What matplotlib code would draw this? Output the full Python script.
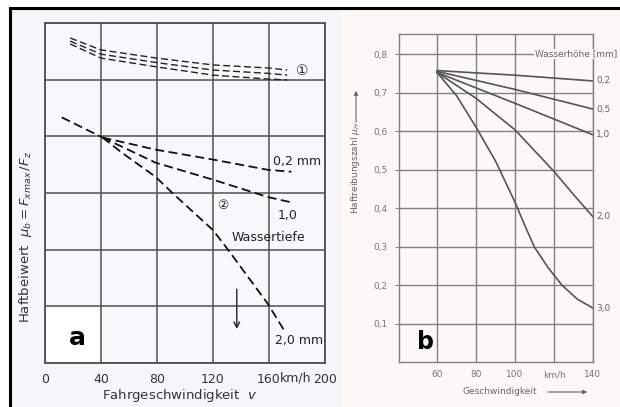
import numpy as np
import matplotlib.pyplot as plt
from matplotlib.patches import Rectangle, FancyArrowPatch
from matplotlib.lines import Line2D

NARROW = ['Liberation Sans Narrow', 'DejaVu Sans']

# --- panel a: Haftbeiwert vs Fahrgeschwindigkeit ---
v_dry = [18, 40, 80, 120, 160, 173]
mu_dry_top = [1.147, 1.105, 1.076, 1.052, 1.041, 1.034]
mu_dry_mid = [1.136, 1.090, 1.060, 1.034, 1.022, 1.016]
mu_dry_bot = [1.126, 1.076, 1.045, 1.016, 1.002, 0.999]

v_common = [12, 41]
mu_common = [0.867, 0.796]
v_02 = [41, 79, 120, 159, 176]
mu_02 = [0.796, 0.753, 0.718, 0.682, 0.675]
v_10 = [41, 79, 120, 159, 175]
mu_10 = [0.796, 0.707, 0.647, 0.586, 0.568]
v_20 = [41, 55, 79, 91, 120, 131, 159, 171]
mu_20 = [0.796, 0.742, 0.657, 0.600, 0.469, 0.398, 0.210, 0.114]

xticks_a = [0, 40, 80, 120, 160, 200]
xticklabels_a = ['0', '40', '80', '120', '160', '200']

# --- panel b: Haftreibungszahl vs Geschwindigkeit ---
water_labels = ['0,2', '0,5', '1,0', '2,0', '3,0']
v_b = {
    '0,2': [60, 100, 140],
    '0,5': [60, 100, 140],
    '1,0': [60, 100, 140],
    '2,0': [60, 80, 100, 120, 130, 140],
    '3,0': [60, 70, 80, 90, 100, 105, 110, 117, 124, 132, 140],
}
mu_b = {
    '0,2': [0.757, 0.745, 0.730],
    '0,5': [0.755, 0.708, 0.657],
    '1,0': [0.752, 0.672, 0.590],
    '2,0': [0.752, 0.685, 0.603, 0.495, 0.435, 0.377],
    '3,0': [0.752, 0.692, 0.610, 0.522, 0.415, 0.355, 0.298, 0.245, 0.200, 0.163, 0.140],
}
xticks_b = [60, 80, 100, 120, 140]
xticklabels_b = ['60', '80', '100', 'km/h', '140']
yticks_b = [0.1, 0.2, 0.3, 0.4, 0.5, 0.6, 0.7, 0.8]
yticklabels_b = ['0,1', '0,2', '0,3', '0,4', '0,5', '0,6', '0,7', '0,8']

W, H = 620, 407


def fx(px):
    return px / W


def fy(py):
    return 1 - py / H


fig = plt.figure(figsize=(6.2, 4.07), dpi=100)
fig.patch.set_facecolor('white')

# panel backgrounds and black border (behind the axes)
fig.patches.append(Rectangle((fx(10), 0), fx(342) - fx(10), fy(8), transform=fig.transFigure,
                             facecolor='#f6f6f9', edgecolor='none', zorder=-2))
fig.patches.append(Rectangle((fx(342), 0), 1 - fx(342), fy(10), transform=fig.transFigure,
                             facecolor='#fbf8f5', edgecolor='none', zorder=-2))
fig.lines.append(Line2D([fx(10), 1], [fy(8), fy(8)], transform=fig.transFigure, color='black',
                        lw=2.2, zorder=5))
fig.lines.append(Line2D([fx(10), fx(10)], [0, fy(8)], transform=fig.transFigure, color='black',
                        lw=2.2, zorder=5))

# ---------------- panel a ----------------
axa = fig.add_axes([fx(45), fy(363), fx(325) - fx(45), fy(23) - fy(363)])
axa.set_facecolor('#f8f8fa')
axa.set_xlim(0, 200)
axa.set_ylim(0, 1.2)
axa.set_xticks(xticks_a)
axa.set_xticklabels(xticklabels_a, family=NARROW, fontsize=9, color='#333')
axa.set_yticks(np.arange(0, 1.21, 0.2))
axa.set_yticklabels([])
axa.tick_params(length=0, pad=7)
axa.grid(True, color='#505050', lw=1.1)
axa.set_axisbelow(True)
for s in axa.spines.values():
    s.set_color('#505050')
    s.set_linewidth(1.3)

dash = (0, (5, 2.5))
for mu in (mu_dry_top, mu_dry_mid, mu_dry_bot):
    axa.plot(v_dry, mu, color='#222', lw=1.0, ls=dash)
axa.plot(v_common, mu_common, color='#111', lw=1.3, ls=dash)
axa.plot(v_02, mu_02, color='#111', lw=1.3, ls=dash)
axa.plot(v_10, mu_10, color='#111', lw=1.3, ls=dash)
axa.plot(v_20, mu_20, color='#111', lw=1.3, ls=dash)

# white box with panel letter
axa.add_patch(Rectangle((1, 0.005), 38.5, 0.19, facecolor='white', edgecolor='none', zorder=2))
axa.text(23, 0.088, 'a', fontsize=18, fontweight='bold', ha='center', va='center', zorder=3)

axa.text(184, 1.03, '①', fontsize=10, ha='center', va='center', color='#222')
axa.text(163, 0.712, '0,2 mm', family=NARROW, fontsize=9, va='center', color='#222')
axa.text(127, 0.555, '②', fontsize=9, ha='center', va='center', color='#222')
axa.text(166, 0.52, '1,0', family=NARROW, fontsize=9, va='center', color='#222')
axa.text(133, 0.444, 'Wassertiefe', family=NARROW, fontsize=9, va='center', color='#222')
axa.text(164, 0.08, '2,0 mm', family=NARROW, fontsize=9, va='center', color='#222')
axa.annotate('', xy=(137, 0.11), xytext=(137, 0.27),
             arrowprops=dict(arrowstyle='->', color='#222', lw=1.0))
axa.text(179, -0.052, 'km/h', family=NARROW, fontsize=9, color='#333', ha='center', va='center',
         clip_on=False)

fig.text(fx(180), fy(395), 'Fahrgeschwindigkeit  $v$', family=NARROW, fontsize=9.5,
         color='#333', ha='center', va='center')
fig.text(fx(26), fy(237), r'Haftbeiwert  $\mu_b = F_{xmax}\,/F_z$', family=NARROW, fontsize=9.5,
         color='#333', ha='center', va='center', rotation=90)

# ---------------- panel b ----------------
axb = fig.add_axes([fx(399), fy(362), fx(593) - fx(399), fy(34) - fy(362)])
axb.set_facecolor('#fbf9f7')
axb.set_xlim(40.5, 140)
axb.set_ylim(0, 0.852)
axb.set_xticks(xticks_b)
axb.set_xticklabels(xticklabels_b, fontsize=6.5, color='#777')
axb.set_yticks(yticks_b)
axb.set_yticklabels(yticklabels_b, fontsize=6.5, color='#777')
axb.tick_params(axis='x', length=0, pad=6)
axb.tick_params(axis='y', length=3, color='#888', pad=5)
axb.grid(True, color='#808080', lw=1.0)
axb.set_axisbelow(True)
for s in axb.spines.values():
    s.set_color('#808080')
    s.set_linewidth(1.0)

for lab in water_labels:
    axb.plot(v_b[lab], mu_b[lab], color='#555', lw=1.2)
    axb.text(141.5, mu_b[lab][-1], lab, fontsize=6.5, color='#666', va='center', clip_on=False)

axb.text(110, 0.80, 'Wasserhöhe [mm]', fontsize=6.5, color='#666', va='center', clip_on=False,
         bbox=dict(facecolor='#fbf9f7', edgecolor='none', pad=0.5))
axb.text(54, 0.052, 'b', fontsize=17, fontweight='bold', ha='center', va='center')

fig.text(fx(356), fy(168), r'Haftreibungszahl $\mu_H$', fontsize=6.5, color='#666',
         ha='center', va='center', rotation=90)
fig.add_artist(FancyArrowPatch((fx(356), fy(125)), (fx(356), fy(88)), transform=fig.transFigure,
                               arrowstyle='-|>', mutation_scale=6, color='#666', lw=0.8))
fig.text(fx(500), fy(392), 'Geschwindigkeit', fontsize=6.5, color='#666', ha='center', va='center')
fig.add_artist(FancyArrowPatch((fx(545), fy(392)), (fx(590), fy(392)), transform=fig.transFigure,
                               arrowstyle='-|>', mutation_scale=6, color='#666', lw=0.8))

fig.savefig('out.png', dpi=100)
